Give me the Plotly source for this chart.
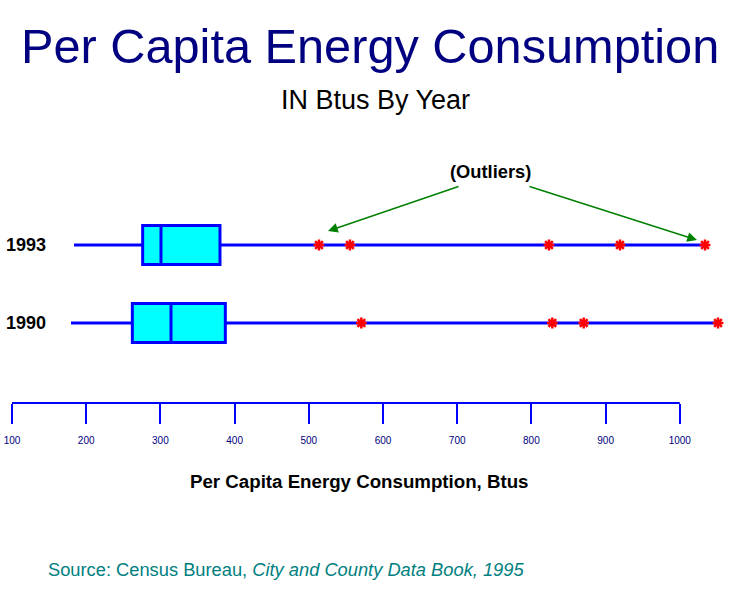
import plotly.graph_objects as go

years = ["1990", "1993"]
lower_whisker = [179.5, 183.6]
q1 = [262.2, 276.1]
median = [314.3, 300.8]
q3 = [387.5, 380.3]
outliers_1990 = [570.8, 828.2, 870.5, 1051.5]
outliers_1993 = [513.7, 555.5, 823.7, 919.4, 1034.0]
upper_extent = [max(outliers_1990), max(outliers_1993)]
tick_values = [100, 200, 300, 400, 500, 600, 700, 800, 900, 1000]
tick_labels = [str(v) for v in tick_values]

FONT = "Arial, Liberation Sans, sans-serif"
BLUE = "#0000FF"

fig = go.Figure()
fig.add_trace(go.Box(
    y=years, orientation="h",
    q1=q1, median=median, q3=q3,
    lowerfence=lower_whisker, upperfence=upper_extent,
    fillcolor="#00FFFF",
    line=dict(color=BLUE, width=3),
    whiskerwidth=0, width=0.5,
    boxpoints=False, showlegend=False, hoverinfo="skip",
))
fig.add_trace(go.Scatter(
    x=outliers_1990 + outliers_1993,
    y=["1990"] * len(outliers_1990) + ["1993"] * len(outliers_1993),
    mode="markers",
    marker=dict(symbol="asterisk-open", size=9, color="red",
                line=dict(color="red", width=2.5)),
    showlegend=False, hoverinfo="skip",
))

H_TOP, H_BOT = 150, 403          # plot area in page pixels
P_LEFT, P_RIGHT = 4, 732

def py(p):
    return (H_BOT - p) / (H_BOT - H_TOP)

def xv(px):
    return 100 + (px - 12) / 0.742

annotations = [
    dict(text="Per Capita Energy Consumption", x=xv(370), xref="x", y=py(46), yref="paper",
         xanchor="center", yanchor="middle",
         showarrow=False, font=dict(family=FONT, size=48.7, color="#000080")),
    dict(text="IN Btus By Year", x=xv(375), xref="x", y=py(100), yref="paper",
         xanchor="center", yanchor="middle",
         showarrow=False, font=dict(family=FONT, size=27, color="black")),
    dict(text="<b>(Outliers)</b>", x=xv(490), xref="x", y=py(171), yref="paper",
         xanchor="center", yanchor="middle",
         showarrow=False, font=dict(family=FONT, size=18.3, color="black")),
    dict(text="", x=xv(328), xref="x", y=py(231), yref="paper",
         showarrow=True, ax=132, ay=-45, arrowcolor="#008000", arrowwidth=1.5,
         arrowhead=2, arrowsize=1.3),
    dict(text="", x=xv(697), xref="x", y=py(240), yref="paper",
         showarrow=True, ax=-169, ay=-54, arrowcolor="#008000", arrowwidth=1.5,
         arrowhead=2, arrowsize=1.3),
    dict(text="<b>Per Capita Energy Consumption, Btus</b>", x=xv(359), xref="x",
         y=py(481), yref="paper", xanchor="center", yanchor="middle", showarrow=False,
         font=dict(family=FONT, size=18.7, color="black")),
    dict(text="Source: Census Bureau, <i>City and County Data Book, 1995</i>",
         x=xv(286), xref="x", y=py(569), yref="paper", xanchor="center", yanchor="middle",
         showarrow=False, font=dict(family=FONT, size=18.3, color="#008080")),
]
for i, yr in enumerate(years):
    annotations.append(dict(text="<b>" + yr + "</b>", x=xv(26), xref="x", y=i, yref="y",
                            xanchor="center", yanchor="middle", showarrow=False,
                            font=dict(family=FONT, size=18, color="black")))

fig.update_layout(
    width=748, height=600,
    margin=dict(l=P_LEFT, r=748 - P_RIGHT, t=H_TOP, b=600 - H_BOT),
    paper_bgcolor="white", plot_bgcolor="white",
    annotations=annotations,
    shapes=[dict(type="line", xref="x", yref="paper", x0=100, x1=1000, y0=0, y1=0,
                 line=dict(color=BLUE, width=2))],
    xaxis=dict(
        range=[xv(P_LEFT), xv(P_RIGHT)],
        tickvals=tick_values, ticktext=tick_labels,
        ticks="outside", ticklen=20, tickwidth=2, tickcolor=BLUE,
        tickfont=dict(family=FONT, size=10, color="#000080"),
        ticklabelstandoff=8, ticklabeloverflow="allow",
        showgrid=False, zeroline=False, showline=False,
    ),
    yaxis=dict(
        type="category", categoryorder="array", categoryarray=years,
        range=[-(H_BOT - 323) / 78, 1 + (245 - H_TOP) / 78],
        showticklabels=False, ticks="",
        showgrid=False, zeroline=False, showline=False,
    ),
)

# remove the default 8px page margin so the figure sits at the window origin
fig.write_html("out.html", config={"displayModeBar": False},
               post_script="document.body.style.margin='0';")
